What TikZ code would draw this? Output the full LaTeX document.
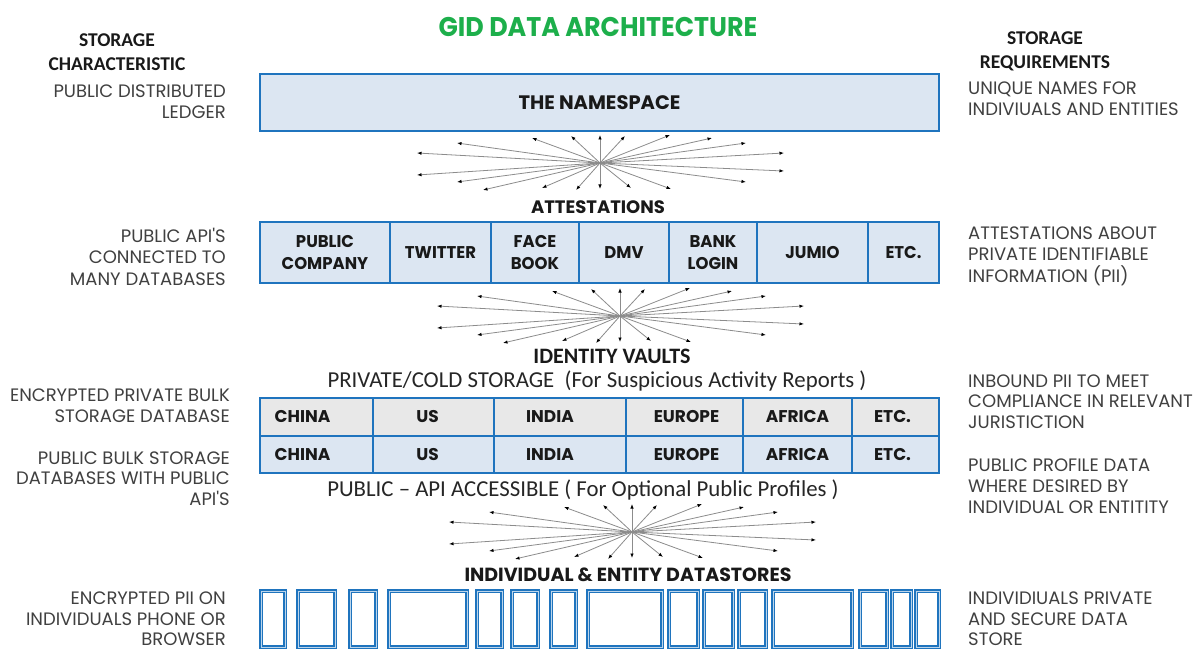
\documentclass[tikz,border=0pt]{standalone}
\usepackage{fontspec}
\setmainfont{Carlito}
\newfontfamily\cg{Poppins}
\newfontfamily\cgb[FakeStretch=0.97]{Poppins}
\newfontfamily\cgm{Poppins}
\newfontfamily\cgt[FakeStretch=0.94]{Poppins}
\usetikzlibrary{arrows.meta}
\definecolor{bord}{HTML}{1F74BE}
\definecolor{lblue}{HTML}{DCE6F2}
\definecolor{lgray}{HTML}{E8E8E8}
\definecolor{gtxt}{HTML}{404040}
\definecolor{titlegreen}{HTML}{1DAF4B}
\definecolor{raygray}{HTML}{8C8C8C}
\newcommand\raysfrom[1]{%
  \foreach \dx/\dy in {-183/-10,-183/12,-143/-20,-143/19,-117/27,-68/-25,-58/25,-29/-27,-24/27,0/-28,0/26,25/-27,31/25,70/-28,71/26,112/-25,146/-20,146/19,184/-10,184/8}
    \draw[ray] (#1) -- ++(\dx,\dy);}
\begin{document}
\begin{tikzpicture}[x=1pt,y=-1pt,
  ray/.style={draw=raygray, line width=0.8pt, -{Latex[length=4.5pt,width=3.4pt,color=black]}},
  gtext/.style={font=\cg\fontsize{18}{21.5}\selectfont, text=gtxt, inner sep=0pt},
  hdr/.style={font=\bfseries\fontsize{19.5}{24}\selectfont, text=black!90, align=center, inner sep=0pt},
  mid/.style={font=\cgm\bfseries\fontsize{18}{22}\selectfont, text=black!90, inner sep=0pt},
  plain/.style={font=\fontsize{22.8}{26}\selectfont, text=black!85, inner sep=0pt},
  cell/.style={draw=bord, line width=2.6pt, fill=lblue, font=\cgb\bfseries\fontsize{17}{21.5}\selectfont, align=center, inner sep=0pt, text=black!90},
  vtext/.style={font=\cgm\bfseries\fontsize{17}{21}\selectfont, text=black!90, inner sep=0pt},
  store/.style={draw=bord, double=bord!30, double distance=0.9pt, line width=1.3pt, fill=white, inner sep=0pt},
]
\useasboundingbox[fill=white] (0,0) rectangle (1203,650);

% title and column headers
\node[font=\cgt\bfseries\fontsize{27}{30}\selectfont, text=titlegreen, inner sep=0pt] (title) at (598,27) {GID DATA ARCHITECTURE};
\node[hdr, anchor=north] (hl) at (117,33.7) {STORAGE\\CHARACTERISTIC};
\node[hdr, anchor=north] (hr) at (1045,31.7) {STORAGE\\REQUIREMENTS};

% namespace
\node[cell, minimum width=679, minimum height=57, font=\cgm\bfseries\fontsize{19.5}{21}\selectfont] (ns) at (599.5,102.5) {THE NAMESPACE};
\node[gtext, anchor=north east, align=right] (l1) at (226,84.5) {PUBLIC DISTRIBUTED\\LEDGER};
\node[gtext, anchor=north west, align=left] (r1) at (968,81.5) {UNIQUE NAMES FOR\\INDIVIUALS AND ENTITIES};

\coordinate (b1) at (600,163);
\raysfrom{b1}

% attestations
\node[mid] (att) at (598,207) {ATTESTATIONS};
\foreach \a/\b/\n/\t in {260/390/pc/{PUBLIC\\COMPANY},390/491/tw/TWITTER,491/579/fb/{FACE\\BOOK},579/669/dmv/DMV,669/757/bank/{BANK\\LOGIN},757/868/jumio/JUMIO,868/939/etca/ETC.}
  \node[cell, minimum width={\b-\a}, minimum height=61] (\n) at ({(\a+\b)/2},252.5) {\t};
\node[gtext, anchor=north east, align=right] (l2) at (226,227.5) {PUBLIC API'S\\CONNECTED TO\\MANY DATABASES};
\node[gtext, anchor=north west, align=left] (r2) at (968,226.5) {ATTESTATIONS ABOUT\\PRIVATE IDENTIFIABLE\\INFORMATION (PII)};

\coordinate (b2) at (620,316);
\raysfrom{b2}

% identity vaults
\node[font=\bfseries\fontsize{22}{26}\selectfont, text=black!90, inner sep=0pt] (iv) at (612,356) {IDENTITY VAULTS};
\node[plain] (priv) at (597,381) {PRIVATE/COLD STORAGE \ (For Suspicious Activity Reports )};
\foreach \a/\b/\n/\s/\t in {260/373/c1/-14/CHINA,373/494/u1/-6/US,494/626/i1/-10/INDIA,626/743/e1/2/EUROPE,743/852/a1/0/AFRICA,852/939/x1/-3/ETC.}{
  \node[cell, fill=lgray, minimum width={\b-\a}, minimum height=38] (\n) at ({(\a+\b)/2},417) {};
  \node[vtext] (\n t) at ([xshift=\s]\n.center) {\t};}
\foreach \a/\b/\n/\s/\t in {260/373/c2/-14/CHINA,373/494/u2/-6/US,494/626/i2/-10/INDIA,626/743/e2/2/EUROPE,743/852/a2/0/AFRICA,852/939/x2/-3/ETC.}{
  \node[cell, minimum width={\b-\a}, minimum height=37] (\n) at ({(\a+\b)/2},454.5) {};
  \node[vtext] (\n t) at ([xshift=\s]\n.center) {\t};}
\node[plain] (pub) at (583,490) {PUBLIC -- API ACCESSIBLE ( For Optional Public Profiles )};
\node[gtext, anchor=north east, align=right] (l3) at (230,388.5) {ENCRYPTED PRIVATE BULK\\STORAGE DATABASE};
\node[gtext, anchor=north east, align=right, font=\cg\fontsize{18}{20.5}\selectfont] (l4) at (230,451.5) {PUBLIC BULK STORAGE\\DATABASES WITH PUBLIC\\API'S};
\node[gtext, anchor=north west, align=left, font=\cg\fontsize{18}{20.5}\selectfont] (r3) at (968,374.5) {INBOUND PII TO MEET\\COMPLIANCE IN RELEVANT\\JURISTICTION};
\node[gtext, anchor=north west, align=left, font=\cg\fontsize{18}{21}\selectfont] (r4) at (968,458.5) {PUBLIC PROFILE DATA\\WHERE DESIRED BY\\INDIVIDUAL OR ENTITITY};

\coordinate (b3) at (632,532);
\raysfrom{b3}

% datastores
\node[mid, font=\cgm\bfseries\fontsize{19}{22}\selectfont] (dst) at (628,575) {INDIVIDUAL \& ENTITY DATASTORES};
\foreach \a/\b [count=\i] in {261/285,298/335,350/376,389/467,477/502,512/538,551/576,588/662,669/698,704/733,739/766,773/852,860/887,892/911,916/939}
  \node[store, minimum width={\b-\a}, minimum height=56] (ds\i) at ({(\a+\b)/2},619) {};
\node[gtext, anchor=north east, align=right, font=\cg\fontsize{18}{20.5}\selectfont] (l5) at (226,592) {ENCRYPTED PII ON\\INDIVIDUALS PHONE OR\\BROWSER};
\node[gtext, anchor=north west, align=left, font=\cg\fontsize{18}{20.5}\selectfont] (r5) at (968,592) {INDIVIDIUALS PRIVATE\\AND SECURE DATA\\STORE};
\end{tikzpicture}
\end{document}
